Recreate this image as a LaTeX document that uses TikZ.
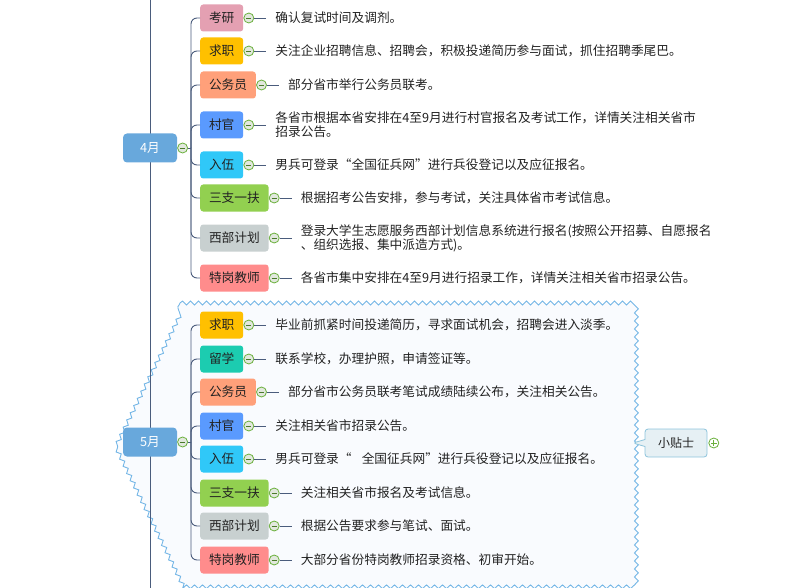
\documentclass[tikz,border=0pt]{standalone}
\usepackage{fontspec}
\setmainfont{Noto Sans CJK SC}
\usepackage{xcolor}
\usepackage{tikz}
\usetikzlibrary{positioning,decorations.pathmorphing,shapes.callouts}
\definecolor{linkc}{RGB}{74,92,124}
\definecolor{monthc}{RGB}{104,168,220}
\definecolor{kaoyan}{RGB}{228,160,178}
\definecolor{qiuzhi}{RGB}{255,192,0}
\definecolor{gwy}{RGB}{255,160,122}
\definecolor{cunguan}{RGB}{90,154,254}
\definecolor{ruwu}{RGB}{48,200,248}
\definecolor{sanzhi}{RGB}{146,208,80}
\definecolor{xibu}{RGB}{200,208,208}
\definecolor{tegang}{RGB}{255,140,140}
\definecolor{liuxue}{RGB}{28,204,176}
\definecolor{foldc}{RGB}{106,176,60}
\definecolor{foldbg}{RGB}{226,232,222}
\definecolor{wavec}{RGB}{116,182,230}
\definecolor{wavebg}{RGB}{249,251,254}
\definecolor{tipbg}{RGB}{230,240,244}
\definecolor{tipline}{RGB}{142,196,220}
\definecolor{txt}{RGB}{34,34,34}
\newcommand{\mfont}{\fontsize{12.7}{14}\selectfont}
% 一个分支：标签框、折叠钮、说明文字
\newcommand{\leaf}[6]{%
  \node[tag,fill=#4] (#1) at (200,#3) {#5};
  \node[fold,right=0pt of #1] (#1f) {};
  \node[desc,right=12pt of #1f] (#1t) {#6};
  \draw[link,rounded corners=6pt] (#2) |- (#1.west);
  \draw[link] (#1f) -- (#1t);
}
\tikzset{
  link/.style={draw=linkc,line width=0.9pt},
  month/.style={fill=monthc,text=white,rounded corners=4pt,minimum width=54pt,
    minimum height=29pt,inner sep=0pt,font=\mfont},
  tag/.style={anchor=west,rounded corners=3pt,minimum height=27pt,inner xsep=8.8pt,
    inner ysep=0pt,text=txt,font=\mfont},
  desc/.style={anchor=west,inner xsep=9pt,inner ysep=0pt,align=left,text=txt,font=\mfont},
  fold/.style={circle,draw=foldc,fill=foldbg,line width=0.8pt,minimum size=10pt,inner sep=0pt,
    path picture={\draw[foldc!70!black,line width=0.9pt]
      ([xshift=-2.6pt]path picture bounding box.center) -- ([xshift=2.6pt]path picture bounding box.center);}},
  foldplus/.style={circle,draw=foldc,fill=white,line width=0.8pt,minimum size=10pt,inner sep=0pt,
    path picture={\draw[foldc,line width=0.9pt]
      ([xshift=-2.8pt]path picture bounding box.center) -- ([xshift=2.8pt]path picture bounding box.center)
      ([yshift=-2.8pt]path picture bounding box.center) -- ([yshift=2.8pt]path picture bounding box.center);}},
  wave/.style={draw=wavec,fill=wavebg,line width=0.9pt,decorate,
    decoration={snake,segment length=8pt,amplitude=1.9pt}},
  tipbox/.style={rectangle callout,fill=tipbg,draw=tipline,line width=0.8pt,rounded corners=3pt,
    callout pointer width=7pt,minimum width=62pt,minimum height=28pt,text=txt,
    font=\fontsize{12}{14}\selectfont}
}

\begin{document}
\begin{tikzpicture}[x=1pt,y=-1pt]
  \useasboundingbox (0,0) rectangle (800,588);
  % 5月 分组边框
  \coordinate (w1) at (180,303);
  \coordinate (w2) at (633,303);
  \coordinate (w3) at (633,582);
  \coordinate (w4) at (180,582);
  \coordinate (w5) at (112,442);
  \draw[wave] (w1) -- (w2) -- (w3) -- (w4) -- (w5) -- cycle;
  % 主干
  \coordinate (top) at (150,0);
  \coordinate (bot) at (150,588);
  \draw[link] (top) -- (bot);
  % 4月
  \node[month] (m4) at (150,148) {4月};
  \node[fold,right=0pt of m4] (m4f) {};
  \coordinate (j4) at (191,148);
  \draw[link] (m4f) -- (j4);
  \leaf{ky4}{j4}{18}{kaoyan}{考研}{确认复试时间及调剂。}
  \leaf{qz4}{j4}{51}{qiuzhi}{求职}{关注企业招聘信息、招聘会，积极投递简历参与面试，抓住招聘季尾巴。}
  \leaf{gw4}{j4}{85}{gwy}{公务员}{部分省市举行公务员联考。}
  \leaf{cg4}{j4}{125}{cunguan}{村官}{各省市根据本省安排在4至9月进行村官报名及考试工作，详情关注相关省市\\招录公告。}
  \leaf{rw4}{j4}{165}{ruwu}{入伍}{男兵可登录“全国征兵网”进行兵役登记以及应征报名。}
  \leaf{sz4}{j4}{198}{sanzhi}{三支一扶}{根据招考公告安排，参与考试，关注具体省市考试信息。}
  \leaf{xb4}{j4}{238}{xibu}{西部计划}{登录大学生志愿服务西部计划信息系统进行报名(按照公开招募、自愿报名\\、组织选报、集中派造方式)。}
  \leaf{tg4}{j4}{278}{tegang}{特岗教师}{各省市集中安排在4至9月进行招录工作，详情关注相关省市招录公告。}
  % 5月
  \node[month] (m5) at (150,442) {5月};
  \node[fold,right=0pt of m5] (m5f) {};
  \coordinate (j5) at (191,442);
  \draw[link] (m5f) -- (j5);
  \leaf{qz5}{j5}{325}{qiuzhi}{求职}{毕业前抓紧时间投递简历，寻求面试机会，招聘会进入淡季。}
  \leaf{lx5}{j5}{359}{liuxue}{留学}{联系学校，办理护照，申请签证等。}
  \leaf{gw5}{j5}{392}{gwy}{公务员}{部分省市公务员联考笔试成绩陆续公布，关注相关公告。}
  \leaf{cg5}{j5}{426}{cunguan}{村官}{关注相关省市招录公告。}
  \leaf{rw5}{j5}{459}{ruwu}{入伍}{男兵可登录“\hspace{0.8em}全国征兵网”进行兵役登记以及应征报名。}
  \leaf{sz5}{j5}{493}{sanzhi}{三支一扶}{关注相关省市报名及考试信息。}
  \leaf{xb5}{j5}{526}{xibu}{西部计划}{根据公告要求参与笔试、面试。}
  \leaf{tg5}{j5}{560}{tegang}{特岗教师}{大部分省份特岗教师招录资格、初审开始。}
  % 小贴士
  \coordinate (pin) at (633,443);
  \node[tipbox,callout absolute pointer={(pin)}] (tips) at (676,443) {小贴士};
  \node[foldplus,right=1pt of tips] (tipsf) {};
\end{tikzpicture}
\end{document}
